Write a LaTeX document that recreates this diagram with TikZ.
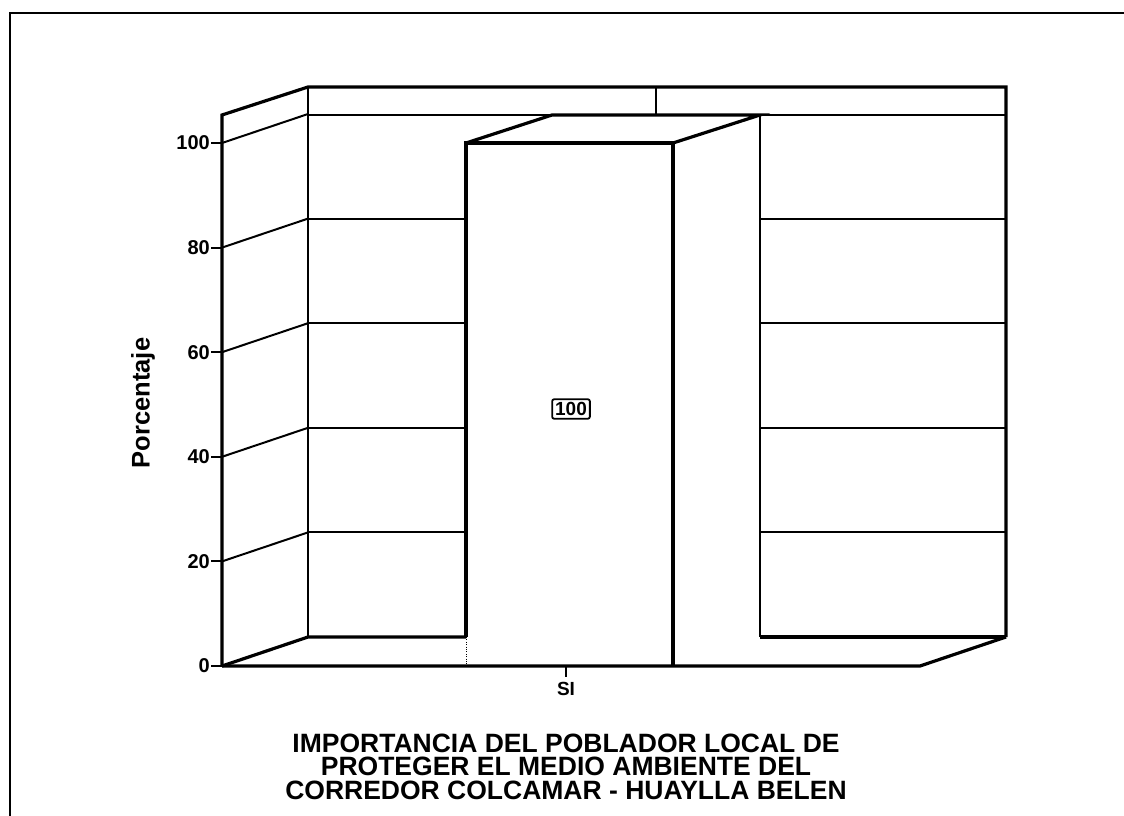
\documentclass[tikz,border=0pt]{standalone}
\usepackage{fontspec}
\setmainfont{Liberation Sans}

\tikzset{
  thk/.style={line width=3.2pt},
  grd/.style={line width=2pt},
  ticklab/.style={anchor=east, font=\bfseries\fontsize{20}{20}\selectfont},
  ttl/.style={anchor=base, inner sep=0pt, text height=19pt, text depth=0pt,
    font=\bfseries\fontsize{26.5}{26.5}\selectfont}
}

\begin{document}
\begin{tikzpicture}[x=1pt,y=-1pt,line join=miter]
\useasboundingbox (0,0) rectangle (1124,816);

% frame
\draw [line width=2.5pt] (10,816) -- (10,13) -- (1124,13);

% walls
\draw [thk] (222,666) -- (222,115) -- (308,87) -- (1006,87) -- (1006,637);
\draw [grd] (308,87) -- (308,637);
\draw [grd] (656,87) -- (656,115);
\draw [grd] (308,115) -- (1006,115);
\foreach \v in {20,40,60,80} {
  \draw [grd] (308,{637-5.23*\v}) -- (466,{637-5.23*\v});
  \draw [grd] (760,{637-5.23*\v}) -- (1006,{637-5.23*\v});
}
\foreach \v in {20,40,60,80,100} {
  \draw [grd] (222,{666-5.23*\v}) -- (308,{637-5.23*\v});
}

% floor
\draw [thk] (222,666) -- (308,637) -- (466,637);
\draw [thk] (760,637) -- (1006,637);
\draw [thk] (222,666) -- (920,666) -- (1006,637);

% bar
\draw [thk] (466,637) -- (466,143) -- (673,143) -- (673,666);
\draw [dotted] (466,637) -- (466,666);
\draw [thk] (466,143) -- (552,115) -- (760,115) -- (673,143);
\draw [grd] (760,115) -- (760,637);
\node (val) [draw, line width=1.8pt, rounded corners=2pt, inner xsep=3pt, inner ysep=3pt,
  font=\bfseries\fontsize{19}{19}\selectfont] at (571,409) {100};

% y axis
\foreach \v in {0,20,40,60,80,100} {
  \draw [grd] (211,{666-5.23*\v}) -- (222,{666-5.23*\v});
  \node (t\v) [ticklab, inner xsep=1pt] at (211,{666-5.23*\v}) {\v};
}
\node (ytitle) [rotate=90, font=\bfseries\fontsize{25.5}{25.5}\selectfont] at (143,403) {Porcentaje};

% x axis
\draw [grd] (566,666) -- (566,677);
\node (si) [font=\bfseries\fontsize{19}{19}\selectfont] at (566,689) {SI};

% title
\node (title1) [ttl] at (566,752) {IMPORTANCIA DEL POBLADOR LOCAL DE};
\node (title2) [ttl] at (566,775.5) {PROTEGER EL MEDIO AMBIENTE DEL};
\node (title3) [ttl] at (566,799) {CORREDOR COLCAMAR - HUAYLLA BELEN};
\end{tikzpicture}
\end{document}
